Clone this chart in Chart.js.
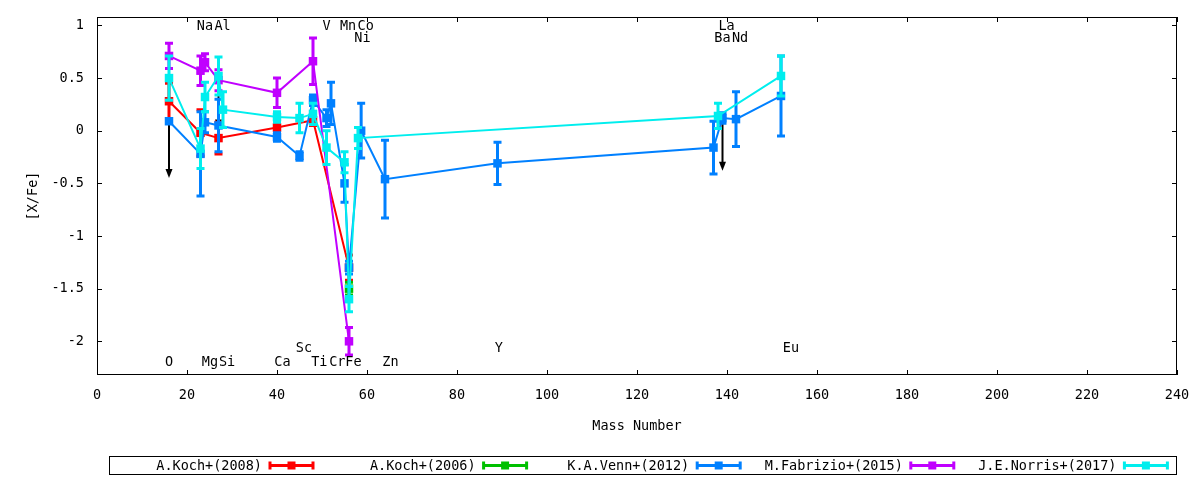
<!DOCTYPE html>
<html>
<head>
<meta charset="utf-8"/>
<script src="https://cdn.jsdelivr.net/npm/chart.js@4.4.1/dist/chart.umd.min.js"></script>
<style>
  body { margin: 0; background: #fff; }
  #wrap { width: 1200px; height: 480px; }
</style>
</head>
<body>
<div id="wrap"><canvas id="chart" width="1200" height="480"></canvas></div>
<script>
// mass number, [X/Fe] and error per study
var koch08Mass = [16, 23, 27, 40, 48, 56];
var koch08Val  = [0.28, -0.02, -0.07, 0.03, 0.10, -1.30];
var koch08Err  = [0.17, 0.22, 0.15, 0.05, 0.05, 0.12];

var koch06Mass = [56];
var koch06Val  = [-1.50];
var koch06Err  = [0.06];

var vennMass = [16, 23, 24, 27, 40, 45, 48, 51, 52, 55, 56, 58.7, 64, 89, 137, 139, 142, 152];
var vennVal  = [0.09, -0.22, 0.08, 0.05, -0.06, -0.24, 0.29, 0.12, 0.26, -0.50, -1.30, 0.00, -0.46, -0.31, -0.16, 0.12, 0.11, 0.33];
var vennErr  = [0, 0.40, 0.10, 0.25, 0.04, 0.04, 0.05, 0.08, 0.20, 0.18, 0.06, 0.26, 0.37, 0.20, 0.25, 0.05, 0.26, 0.38];

var fabMass = [16, 23, 24, 27, 40, 48, 56];
var fabVal  = [0.71, 0.57, 0.65, 0.48, 0.36, 0.66, -2.00];
var fabErr  = [0.12, 0.14, 0.08, 0.10, 0.14, 0.22, 0.13];

var norrisMass = [16, 23, 24, 27, 28, 40, 45, 48, 51, 55, 56, 58, 138, 152];
var norrisVal  = [0.50, -0.17, 0.32, 0.52, 0.20, 0.13, 0.12, 0.16, -0.16, -0.30, -1.60, -0.07, 0.14, 0.52];
var norrisErr  = [0.21, 0.19, 0.14, 0.18, 0.17, 0.05, 0.14, 0.10, 0.16, 0.10, 0.12, 0.10, 0.12, 0.19];

// upper limits (black arrows)
var limitMass = [16, 27, 139];
var limitFrom = [0.09, 0.34, 0.10];
var limitTo   = [-0.45, 0.02, -0.38];

// element names written inside the plot
var elemNames = ["Na", "Al", "V", "Mn", "Co", "La", "Ni", "Ba", "Nd",
                 "O", "Mg", "Si", "Ca", "Ti", "Cr", "Fe", "Zn", "Sc", "Y", "Eu"];
var elemMass  = [24, 27.9, 51, 55.8, 59.7, 139.9, 59, 139, 142.9,
                 16, 25.1, 28.9, 41.2, 49.4, 53.4, 57, 65.2, 46, 89.3, 154.2];
var elemY     = [0.99, 0.99, 0.99, 0.99, 0.99, 0.99, 0.88, 0.88, 0.88,
                 -2.2, -2.2, -2.2, -2.2, -2.2, -2.2, -2.2, -2.2, -2.07, -2.07, -2.07];

var xTicks = [0, 20, 40, 60, 80, 100, 120, 140, 160, 180, 200, 220, 240];
var yTicks = [-2, -1.5, -1, -0.5, 0, 0.5, 1];

var FONT = "'DejaVu Sans Mono', 'Liberation Mono', monospace";
var tickFont = { family: FONT, size: 13.5 };

function pts(xs, ys) {
  var out = [];
  for (var i = 0; i < xs.length; i++) out.push({ x: xs[i], y: ys[i] });
  return out;
}

function series(label, color, xs, ys, errs, order) {
  return {
    label: label,
    data: pts(xs, ys),
    errors: errs,
    showLine: true,
    borderColor: color,
    backgroundColor: color,
    borderWidth: 2,
    pointStyle: 'rect',
    pointRadius: 6,
    pointBorderWidth: 0,
    pointBackgroundColor: color,
    tension: 0,
    order: order
  };
}

var gnuFrame = {
  id: 'gnuFrame',
  beforeDatasetsDraw: function(chart) {
    var ctx = chart.ctx, xs = chart.scales.x, ys = chart.scales.y;
    ctx.save();
    ctx.strokeStyle = '#000';
    ctx.fillStyle = '#000';
    ctx.lineWidth = 2;
    for (var i = 0; i < limitMass.length; i++) {
      var px = xs.getPixelForValue(limitMass[i]);
      var y0 = ys.getPixelForValue(limitFrom[i]);
      var y1 = ys.getPixelForValue(limitTo[i]);
      ctx.beginPath(); ctx.moveTo(px, y0); ctx.lineTo(px, y1 - 6); ctx.stroke();
      ctx.beginPath();
      ctx.moveTo(px, y1); ctx.lineTo(px - 3.5, y1 - 9); ctx.lineTo(px + 3.5, y1 - 9);
      ctx.closePath(); ctx.fill();
    }
    ctx.restore();
  },
  beforeDatasetDraw: function(chart, args) {
    var ds = chart.data.datasets[args.index];
    var ctx = chart.ctx, ys = chart.scales.y;
    ctx.save();
    ctx.strokeStyle = ds.borderColor;
    ctx.lineWidth = 3;
    for (var j = 0; j < ds.data.length; j++) {
      var e = ds.errors[j];
      if (!e) continue;
      var px = args.meta.data[j].x;
      var top = ys.getPixelForValue(ds.data[j].y + e);
      var bot = ys.getPixelForValue(ds.data[j].y - e);
      ctx.beginPath();
      ctx.moveTo(px, top); ctx.lineTo(px, bot);
      ctx.moveTo(px - 4, top); ctx.lineTo(px + 4, top);
      ctx.moveTo(px - 4, bot); ctx.lineTo(px + 4, bot);
      ctx.stroke();
    }
    ctx.restore();
  },
  afterDraw: function(chart) {
    var ctx = chart.ctx, a = chart.chartArea;
    var xs = chart.scales.x, ys = chart.scales.y;
    ctx.save();
    // border and inward ticks on all four sides
    ctx.strokeStyle = '#000';
    ctx.lineWidth = 1;
    ctx.strokeRect(a.left + 0.5, a.top + 0.5, a.right - a.left - 1, a.bottom - a.top - 1);
    ctx.beginPath();
    xTicks.forEach(function(v) {
      var px = Math.round(xs.getPixelForValue(v)) + 0.5;
      ctx.moveTo(px, a.bottom); ctx.lineTo(px, a.bottom - 5);
      ctx.moveTo(px, a.top); ctx.lineTo(px, a.top + 5);
    });
    yTicks.forEach(function(v) {
      var py = Math.round(ys.getPixelForValue(v)) + 0.5;
      ctx.moveTo(a.left, py); ctx.lineTo(a.left + 5, py);
      ctx.moveTo(a.right, py); ctx.lineTo(a.right - 5, py);
    });
    ctx.stroke();

    // element labels
    ctx.fillStyle = '#000';
    ctx.font = '13.5px ' + FONT;
    ctx.textAlign = 'center';
    ctx.textBaseline = 'middle';
    for (var i = 0; i < elemNames.length; i++) {
      ctx.fillText(elemNames[i], xs.getPixelForValue(elemMass[i]), ys.getPixelForValue(elemY[i]));
    }

    // legend box
    var boxL = 109, boxR = 1177, boxT = 456, boxB = 475;
    ctx.strokeRect(boxL + 0.5, boxT + 0.5, boxR - boxL - 1, boxB - boxT - 1);
    var step = (boxR - boxL) / 5;
    var cy = (boxT + boxB) / 2;
    var legendSets = chart.data.datasets;
    for (var k = 0; k < legendSets.length; k++) {
      var ds = legendSets[k];
      var x0 = boxL + k * step;
      ctx.textAlign = 'right';
      ctx.fillStyle = '#000';
      ctx.fillText(ds.label, x0 + 153, cy + 1);
      var s0 = x0 + 161, s1 = x0 + 204;
      ctx.strokeStyle = ds.borderColor;
      ctx.lineWidth = 3;
      ctx.beginPath();
      ctx.moveTo(s0, cy); ctx.lineTo(s1, cy);
      ctx.moveTo(s0, cy - 4); ctx.lineTo(s0, cy + 4);
      ctx.moveTo(s1, cy - 4); ctx.lineTo(s1, cy + 4);
      ctx.stroke();
      ctx.fillStyle = ds.borderColor;
      ctx.fillRect((s0 + s1) / 2 - 4, cy - 4, 8, 8);
    }
    ctx.restore();
  }
};

var ctx = document.getElementById('chart').getContext('2d');
window.abund = new Chart(ctx, {
  type: 'scatter',
  data: {
    datasets: [
      series('A.Koch+(2008)', '#ff0000', koch08Mass, koch08Val, koch08Err, 5),
      series('A.Koch+(2006)', '#00c000', koch06Mass, koch06Val, koch06Err, 4),
      series('K.A.Venn+(2012)', '#0080ff', vennMass, vennVal, vennErr, 3),
      series('M.Fabrizio+(2015)', '#c000ff', fabMass, fabVal, fabErr, 2),
      series('J.E.Norris+(2017)', '#00eeee', norrisMass, norrisVal, norrisErr, 1)
    ]
  },
  options: {
    responsive: false,
    animation: false,
    devicePixelRatio: 1,
    layout: { padding: { top: 17, right: 23, left: 0, bottom: 0 } },
    plugins: {
      legend: { display: false },
      tooltip: { enabled: false }
    },
    scales: {
      x: {
        type: 'linear', min: 0, max: 240,
        grid: { display: false }, border: { display: false },
        afterBuildTicks: function(s) { s.ticks = xTicks.map(function(v) { return { value: v }; }); },
        afterFit: function(s) { s.height = 105; },
        ticks: { padding: 4, color: '#000', font: tickFont, maxRotation: 0, autoSkip: false,
                 callback: function(v) { return String(v); } },
        title: { display: true, text: 'Mass Number', color: '#000', font: tickFont, padding: { bottom: 45 } }
      },
      y: {
        type: 'linear', min: -2.32, max: 1.08,
        grid: { display: false }, border: { display: false },
        afterBuildTicks: function(s) { s.ticks = yTicks.map(function(v) { return { value: v }; }); },
        afterFit: function(s) { s.width = 97; },
        ticks: { padding: 5, color: '#000', font: tickFont, autoSkip: false,
                 callback: function(v) { return String(v); } },
        title: { display: true, text: '[X/Fe]', color: '#000', font: tickFont, padding: { top: 25 } }
      }
    }
  },
  plugins: [gnuFrame]
});
</script>
</body>
</html>
